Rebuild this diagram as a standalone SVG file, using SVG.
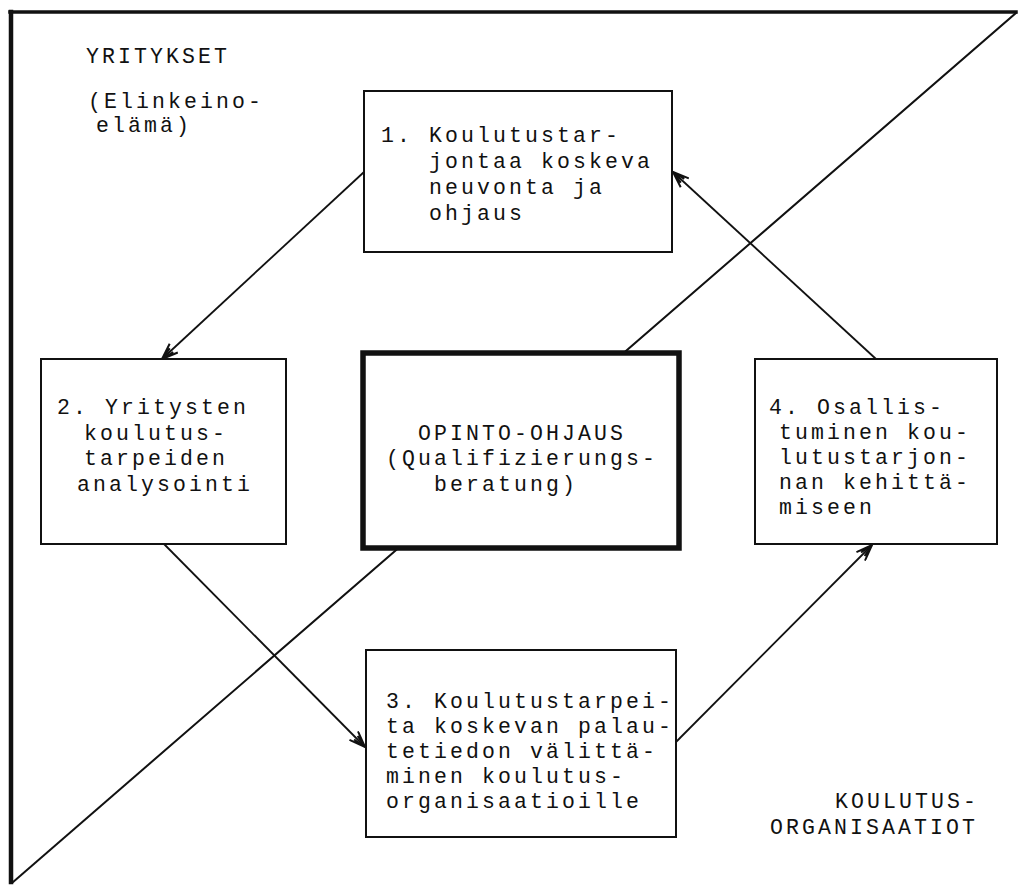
<svg xmlns="http://www.w3.org/2000/svg" width="1024" height="888" viewBox="0 0 1024 888">
  <style>
    .t { font-family: "Liberation Mono", "DejaVu Sans Mono", monospace; font-size: 21.5px; letter-spacing: 3.1px; fill: #111; }
    .box { fill: #fff; stroke: #111; stroke-width: 2; }
    .main { fill: #fff; stroke: #111; stroke-width: 5.5; }
    .conn { fill: none; stroke: #111; stroke-width: 1.8; marker-end: url(#arr); }
    .frame { fill: none; stroke: #111; stroke-linecap: square; }
  </style>
  <defs>
    <marker id="arr" viewBox="0 0 18 14" refX="17" refY="7" markerWidth="18" markerHeight="14" markerUnits="userSpaceOnUse" orient="auto">
      <path d="M1,1 L17,7 L1,13 M4,4.5 L17,7 L4,9.5" fill="none" stroke="#111" stroke-width="2"/>
    </marker>
  </defs>
  <rect width="1024" height="888" fill="#fff"/>

  <g id="frame">
    <line class="frame" x1="10" y1="12" x2="1016" y2="12" stroke-width="3.5"/>
    <line class="frame" x1="11" y1="12" x2="11" y2="882" stroke-width="4.5"/>
    <line class="frame" x1="1016" y1="13" x2="13" y2="882" stroke-width="2"/>
  </g>

  <g id="labels">
    <text class="t" x="86" y="63">YRITYKSET</text>
    <text class="t" x="88" y="108">(Elinkeino-</text>
    <text class="t" x="96" y="132">elämä)</text>
    <text class="t" x="835" y="808">KOULUTUS-</text>
    <text class="t" x="770" y="834">ORGANISAATIOT</text>
  </g>

  <g id="connectors">
    <line class="conn" x1="364" y1="172" x2="162" y2="359"/>
    <line class="conn" x1="164" y1="544" x2="365" y2="747"/>
    <line class="conn" x1="676" y1="742" x2="872" y2="545"/>
    <line class="conn" x1="876" y1="359" x2="673" y2="172"/>
  </g>

  <g id="node1">
    <rect class="box" x="364" y="91" width="308" height="161"/>
    <text class="t" x="381" y="142">1. Koulutustar-</text>
    <text class="t" x="429" y="168">jontaa koskeva</text>
    <text class="t" x="429" y="194">neuvonta ja</text>
    <text class="t" x="429" y="220">ohjaus</text>
  </g>

  <g id="node2">
    <rect class="box" x="41" y="359" width="245" height="185"/>
    <text class="t" x="57" y="414">2. Yritysten</text>
    <text class="t" x="84" y="439.5">koulutus-</text>
    <text class="t" x="84" y="465">tarpeiden</text>
    <text class="t" x="77" y="490.5">analysointi</text>
  </g>

  <g id="center">
    <rect class="main" x="363" y="353" width="316" height="195"/>
    <text class="t" x="418" y="439.5">OPINTO-OHJAUS</text>
    <text class="t" x="386" y="465">(Qualifizierungs-</text>
    <text class="t" x="434" y="490.5">beratung)</text>
  </g>

  <g id="node4">
    <rect class="box" x="755" y="359" width="242" height="185"/>
    <text class="t" x="769" y="414">4. Osallis-</text>
    <text class="t" x="779" y="439">tuminen kou-</text>
    <text class="t" x="779" y="464">lutustarjon-</text>
    <text class="t" x="779" y="489">nan kehittä-</text>
    <text class="t" x="779" y="514">miseen</text>
  </g>

  <g id="node3">
    <rect class="box" x="366" y="650" width="310" height="187"/>
    <text class="t" x="386" y="708">3. Koulutustarpei-</text>
    <text class="t" x="386" y="733">ta koskevan palau-</text>
    <text class="t" x="386" y="758">tetiedon välittä-</text>
    <text class="t" x="386" y="783">minen koulutus-</text>
    <text class="t" x="386" y="808">organisaatioille</text>
  </g>
</svg>
